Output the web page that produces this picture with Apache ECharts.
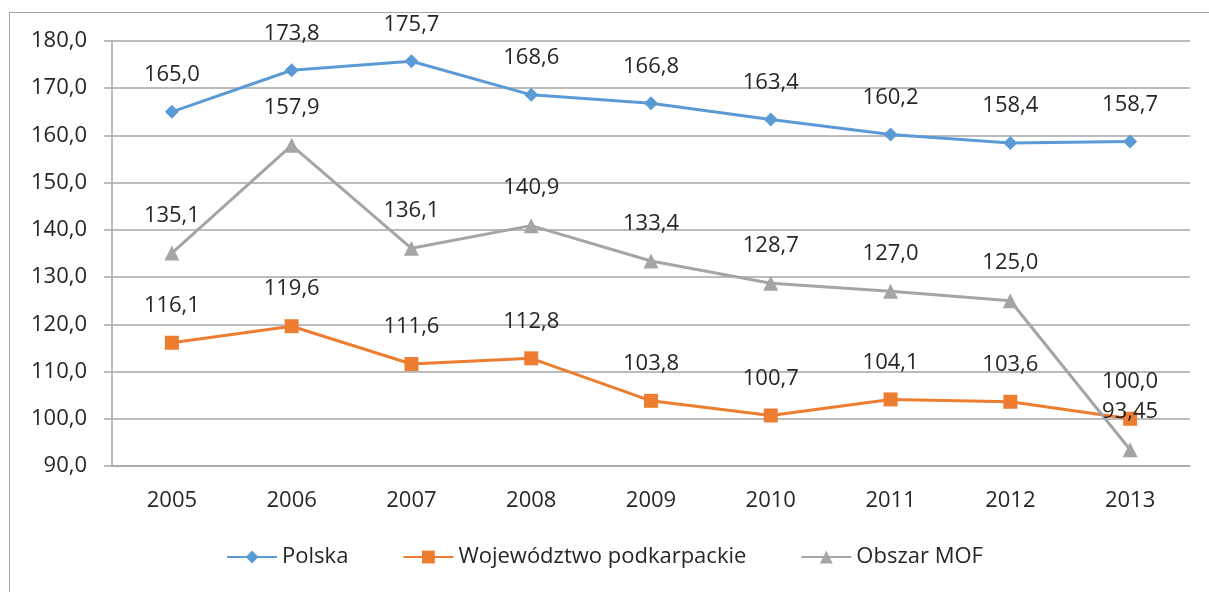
<!DOCTYPE html>
<html>
<head>
<meta charset="utf-8">
<script src="https://cdn.jsdelivr.net/npm/echarts@6/dist/echarts.min.js"></script>
<style>
html, body { margin: 0; padding: 0; background: #fff; }
#chart { width: 1209px; height: 592px; }
</style>
</head>
<body>
<div id="chart"></div>
<script>
// lata
var years = ['2005', '2006', '2007', '2008', '2009', '2010', '2011', '2012', '2013'];
// Polska
var polska = [165.0, 173.8, 175.7, 168.6, 166.8, 163.4, 160.2, 158.4, 158.7];
// Województwo podkarpackie
var podkarpackie = [116.1, 119.6, 111.6, 112.8, 103.8, 100.7, 104.1, 103.6, 100.0];
// Obszar MOF
var mof = [135.1, 157.9, 136.1, 140.9, 133.4, 128.7, 127.0, 125.0, 93.45];

var font = 'Open Sans';
var textColor = '#262626';

// liczby po polsku: przecinek, min. jedno miejsce po przecinku
var fmt = function(v) {
	var s = Math.round(v * 10) === v * 10 ? v.toFixed(1) : String(v);
	return s.replace('.', ',');
};

var mkSeries = function(name, data, color, symbol, size) {
	return {
		name: name,
		type: 'line',
		data: data,
		symbol: symbol,
		symbolSize: size,
		lineStyle: { color: color, width: 3 },
		itemStyle: { color: color },
		label: {
			show: true,
			position: 'top',
			distance: 19,
			color: textColor,
			fontFamily: font,
			fontSize: 22,
			formatter: function(p) { return fmt(p.value); }
		},
		emphasis: { disabled: true },
		animation: false
	};
};

var chart = echarts.init(document.getElementById('chart'));
var option = {
	backgroundColor: '#fff',
	grid: { left: 112, right: 19, top: 41, bottom: 126 },
	graphic: [
		{ type: 'line', shape: { x1: 9, y1: 12.5, x2: 1209, y2: 12.5 }, style: { stroke: '#a6a6a6', lineWidth: 1 } },
		{ type: 'line', shape: { x1: 9.5, y1: 12, x2: 9.5, y2: 592 }, style: { stroke: '#a6a6a6', lineWidth: 1 } }
	],
	legend: {
		bottom: 19,
		left: 'center',
		itemWidth: 50,
		itemHeight: 16,
		itemGap: 54,
		textStyle: { color: textColor, fontFamily: font, fontSize: 22 },
		data: ['Polska', 'Województwo podkarpackie', 'Obszar MOF']
	},
	xAxis: {
		type: 'category',
		data: years,
		boundaryGap: true,
		axisLine: { lineStyle: { color: '#a6a6a6', width: 1.5 } },
		axisTick: { show: false },
		axisLabel: { color: textColor, fontFamily: font, fontSize: 22, margin: 24 }
	},
	yAxis: {
		type: 'value',
		min: 90,
		max: 180,
		interval: 10,
		axisLine: { show: true, lineStyle: { color: '#a6a6a6', width: 1.5 } },
		axisTick: { show: true, length: 8, lineStyle: { color: '#a6a6a6', width: 1.5 } },
		splitLine: { lineStyle: { color: '#a6a6a6', width: 1.5 } },
		axisLabel: {
			color: textColor, fontFamily: font, fontSize: 22, margin: 25,
			formatter: function(v) { return fmt(v); }
		}
	},
	series: [
		mkSeries('Polska', polska, '#5B9BD5', 'diamond', 14),
		mkSeries('Województwo podkarpackie', podkarpackie, '#ED7D31', 'rect', 14),
		mkSeries('Obszar MOF', mof, '#A5A5A5', 'triangle', 15)
	]
};
chart.setOption(option);
</script>
</body>
</html>
